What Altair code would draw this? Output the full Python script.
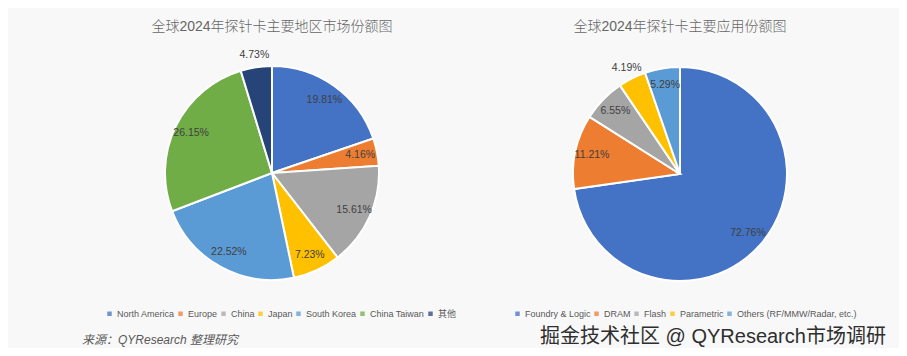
import altair as alt
import pandas as pd

regions = ["North America", "Europe", "China", "Japan", "South Korea", "China Taiwan", "其他"]
region_share = [19.81, 4.16, 15.61, 7.23, 22.52, 26.15, 4.73]
region_colors = ["#4472C4", "#ED7D31", "#A5A5A5", "#FFC000", "#5B9BD5", "#70AD47", "#264478"]

apps = ["Foundry & Logic", "DRAM", "Flash", "Parametric", "Others (RF/MMW/Radar, etc.)"]
app_share = [72.76, 11.21, 6.55, 4.19, 5.29]
app_colors = ["#4472C4", "#ED7D31", "#A5A5A5", "#FFC000", "#5B9BD5"]

title_left = "全球2024年探针卡主要地区市场份额图"
title_right = "全球2024年探针卡主要应用份额图"
source_text = "来源：QYResearch 整理研究"
watermark = "掘金技术社区 @ QYResearch市场调研"

FONT = "Liberation Sans, Arial, Noto Sans CJK SC"
TXT = "#595959"

df_l = pd.DataFrame({"cat": regions, "v": region_share, "idx": range(len(regions))})
df_l["lab"] = [f"{v:.2f}%" for v in region_share]
df_r = pd.DataFrame({"cat": apps, "v": app_share, "idx": range(len(apps))})
df_r["lab"] = [f"{v:.2f}%" for v in app_share]

R = 107


def pie(df, cats, colors, cx, cy, outside, lx, ly, legend_cols):
    base = alt.Chart(df).encode(
        theta=alt.Theta("v:Q", stack=True),
        order=alt.Order("idx:Q"),
        x=alt.value(cx),
        y=alt.value(cy),
    )
    arcs = base.mark_arc(radius=R, stroke="white", strokeWidth=2).encode(
        color=alt.Color(
            "cat:N",
            sort=cats,
            scale=alt.Scale(domain=cats, range=colors),
            legend=alt.Legend(
                orient="none", legendX=lx, legendY=ly, direction="horizontal",
                columns=legend_cols, title=None, symbolType="square", symbolSize=20,
                symbolStrokeWidth=0, labelFontSize=9, labelColor=TXT, labelFont=FONT,
                labelOffset=3, columnPadding=1, padding=0, symbolOpacity=0.75,
            ),
        )
    )
    inside = base.transform_calculate(
        t1=f"datum.cat == '{outside}' ? '' : datum.lab"
    ).mark_text(radius=90, fontSize=10.5, font=FONT, color="#404040").encode(text="t1:N")
    out = base.transform_calculate(
        t2=f"datum.cat == '{outside}' ? datum.lab : ''"
    ).mark_text(radius=119, fontSize=10.5, font=FONT, color="#404040").encode(text="t2:N")
    return alt.layer(arcs, inside, out)


left = pie(df_l, regions, region_colors, 264, 165, "其他", 97, 301, 7)
right = pie(df_r, apps, app_colors, 672, 166, "Parametric", 505, 301, 5)

t_left = alt.Chart(pd.DataFrame({"t": [title_left]})).mark_text(
    fontSize=14, font=FONT, color="#666666", baseline="middle", fontWeight=300
).encode(text="t:N", x=alt.value(264), y=alt.value(19))
t_right = alt.Chart(pd.DataFrame({"t": [title_right]})).mark_text(
    fontSize=14, font=FONT, color="#666666", baseline="middle", fontWeight=300
).encode(text="t:N", x=alt.value(672), y=alt.value(19))
src = alt.Chart(pd.DataFrame({"t": [source_text]})).mark_text(
    fontSize=12, font=FONT, color=TXT, fontStyle="italic", align="left", baseline="middle"
).encode(text="t:N", x=alt.value(74), y=alt.value(332))
wm = alt.Chart(pd.DataFrame({"t": [watermark]})).mark_text(
    fontSize=20, font=FONT, color="#2e2e2e", align="left", baseline="middle"
).encode(text="t:N", x=alt.value(532), y=alt.value(329))

chart = alt.layer(left, right, t_left, t_right, src, wm).resolve_scale(
    theta="independent", color="independent"
).properties(
    width=891, height=340, padding=0, autosize="none", background="#f8f8f8"
).configure_view(stroke=None)

chart.save("out.html", embed_options={"renderer": "svg", "actions": False})
